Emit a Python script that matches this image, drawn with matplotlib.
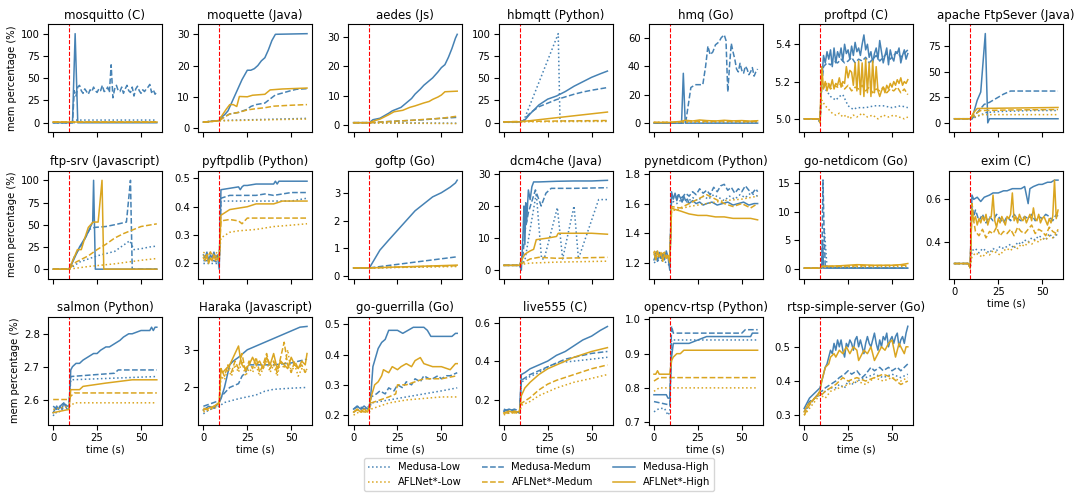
import matplotlib
matplotlib.use("Agg")
import matplotlib.pyplot as plt

BLUE = "#4682b4"
GOLD = "#daa520"

series_keys = ["ML", "MM", "MH", "AL", "AM", "AH"]
series_labels = {"ML": "Medusa-Low", "MM": "Medusa-Medum", "MH": "Medusa-High",
                 "AL": "AFLNet*-Low", "AM": "AFLNet*-Medum", "AH": "AFLNet*-High"}

titles = ["mosquitto (C)", "moquette (Java)", "aedes (Js)", "hbmqtt (Python)", "hmq (Go)",
          "proftpd (C)", "apache FtpSever (Java)",
          "ftp-srv (Javascript)", "pyftpdlib (Python)", "goftp (Go)", "dcm4che (Java)",
          "pynetdicom (Python)", "go-netdicom (Go)", "exim (C)",
          "salmon (Python)", "Haraka (Javascript)", "go-guerrilla (Go)", "live555 (C)",
          "opencv-rtsp (Python)", "rtsp-simple-server (Go)"]

# ---------------- data: (time s, mem %) ----------------
mosquitto = {
    "ML": ([0, 12, 13, 59], [0, 0, 3, 3]),
    "MM": ([0, 11] + list(range(12, 60)),
           [0, 0, 36, 30, 40, 42, 36, 33, 38, 35, 32, 37, 35, 40, 36, 34, 38, 36, 42, 35, 36, 40,
            34, 65, 28, 38, 42, 36, 35, 40, 33, 38, 42, 36, 34, 40, 30, 38, 41, 36, 33, 37,
            35, 38, 40, 43, 34, 37, 32, 35]),
    "MH": ([0, 11, 12.5, 14, 59], [0, 0, 100, 0, 0]),
    "AL": ([0, 59], [0.3, 0.3]),
    "AM": ([0, 59], [0.6, 0.6]),
    "AH": ([0, 59], [0.9, 0.9]),
}
moquette = {
    "ML": ([0, 9, 59], [1.9, 2.4, 3.1]),
    "MM": ([0, 9, 10, 15, 20, 25, 27, 30, 33, 35, 41, 45, 50, 53, 59],
           [1.9, 2.4, 3.0, 4.5, 5.0, 6.0, 6.9, 7.5, 7.8, 8.0, 10.6, 11.2, 12.0, 12.4, 12.6]),
    "MH": ([0, 9, 10, 12, 14, 16, 18, 20, 22, 24, 25, 27, 29, 31, 33, 35, 37, 39, 41, 59],
           [1.9, 2.4, 3.5, 4.2, 5.5, 8, 10.5, 13, 15.5, 17.5, 18.5, 18.5, 19, 20, 21.5, 22.5, 25, 28, 30, 30.2]),
    "AL": ([0, 9, 59], [1.9, 2.3, 2.9]),
    "AM": ([0, 9, 12, 15, 20, 25, 30, 35, 40, 50, 59],
           [1.9, 2.3, 3.5, 4.5, 5.0, 5.8, 6.2, 6.5, 7.0, 7.3, 7.5]),
    "AH": ([0, 9, 10, 13, 15, 17, 19, 20.5, 25, 28, 35, 38, 45, 59],
           [1.9, 2.3, 3.5, 6, 7.5, 7.5, 6.9, 10.1, 10, 10.5, 10.8, 12.2, 12.5, 12.8]),
}
aedes = {
    "ML": ([0, 9, 59], [0.8, 0.8, 0.6]),
    "MM": ([0, 9, 20, 40, 50, 59], [0.8, 0.8, 1.2, 1.8, 2.3, 2.6]),
    "MH": ([0, 9, 11, 15, 20, 22, 27, 30, 33, 35, 38, 40, 42, 45, 48, 50, 52, 54, 56, 58, 59],
           [0.8, 0.8, 1.8, 2.3, 4, 4.8, 6, 7.5, 9, 10.5, 12.2, 13.5, 14.5, 16, 18, 19.5, 20.5, 23, 26, 29.5, 30.8]),
    "AL": ([0, 9, 59], [0.7, 0.7, 0.5]),
    "AM": ([0, 9, 30, 50, 59], [0.8, 0.8, 1.5, 2.3, 3.0]),
    "AH": ([0, 9, 12, 15, 20, 23, 28, 32, 35, 40, 43, 45, 48, 50, 52, 59],
           [0.8, 0.8, 1.5, 2, 3.5, 4.5, 5, 6, 6.5, 7.5, 8, 8.7, 9.5, 10.2, 11.3, 11.5]),
}
hbmqtt = {
    "ML": ([0, 11, 31, 32, 59], [0.5, 0.5, 100, 2, 2]),
    "MM": ([0, 9, 11, 15, 20, 25, 30, 35, 40, 45, 50, 59],
           [1, 1, 2, 11, 18, 22, 26, 29, 32, 34.5, 36.5, 39.5]),
    "MH": ([0, 9, 12, 15, 20, 25, 30, 35, 40, 45, 50, 55, 59],
           [1, 1, 3, 10, 20, 26.5, 30, 35, 41, 46, 51, 55, 58]),
    "AL": ([0, 59], [1, 1.5]),
    "AM": ([0, 9, 59], [1, 1.5, 2.5]),
    "AH": ([0, 9, 59], [1, 1, 12]),
}
hmq = {
    "ML": ([0, 59], [0.3, 0.5]),
    "MM": ([0, 18, 21, 23.5, 27.8, 29.4, 30.7, 32, 33.5, 35, 37, 38.3, 40, 41, 42, 43, 44, 45, 46, 47,
            48, 49, 50, 51, 52, 53, 54, 55, 56, 57, 58, 59],
           [0, 0, 25, 27, 27, 40, 54, 48, 50, 55, 57, 60, 62, 58, 22, 40, 56, 50, 45, 38,
            36, 42, 37, 35, 40, 38, 34, 36, 39, 33, 36, 38]),
    "MH": ([0, 15.7, 16.7, 17.8, 59], [0, 0, 35, 0, 0]),
    "AL": ([0, 9, 59], [0.5, 0.5, 1.0]),
    "AM": ([0, 9, 15, 20, 30, 40, 50, 59], [0.5, 0.5, 1.0, 1.5, 1.2, 1.5, 1.0, 1.3]),
    "AH": ([0, 9, 15, 18, 22, 26, 30, 35, 40, 45, 50, 55, 59],
           [0.5, 0.5, 1.2, 2.0, 1.5, 2.2, 1.8, 1.5, 2.0, 1.6, 1.8, 1.4, 1.7]),
}
proftpd = {
    "ML": ([0, 8, 9, 10, 12, 15, 18, 20, 22, 25, 28, 30, 35, 40, 45, 50, 55, 59],
           [5.0, 5.0, 4.99, 5.2, 5.16, 5.12, 5.10, 5.12, 5.13, 5.07, 5.05, 5.06, 5.06, 5.07, 5.07, 5.06, 5.07, 5.06]),
    "MM": ([0, 8, 9, 10, 11, 13, 15, 17, 19, 21, 23, 25, 27, 29, 31, 33, 35, 37, 39, 41, 43, 45, 47, 49,
            51, 53, 55, 57, 59],
           [5.0, 5.0, 4.98, 5.18, 5.28, 5.30, 5.29, 5.31, 5.30, 5.32, 5.30, 5.31, 5.33, 5.30, 5.32,
            5.31, 5.33, 5.30, 5.32, 5.34, 5.31, 5.33, 5.35, 5.32, 5.34, 5.36, 5.33, 5.35, 5.37]),
    "MH": ([0, 8, 9, 10] + list(range(11, 60)),
           [5.0, 5.0, 4.98, 5.2,
            5.34, 5.30, 5.36, 5.32, 5.37, 5.28, 5.38, 5.30, 5.36, 5.33,
            5.38, 5.31, 5.40, 5.35, 5.37, 5.32, 5.39, 5.34, 5.41, 5.36,
            5.38, 5.34, 5.40, 5.45, 5.37, 5.40, 5.33, 5.36, 5.30, 5.35,
            5.38, 5.32, 5.42, 5.36, 5.30, 5.34, 5.38, 5.29, 5.37, 5.33,
            5.31, 5.36, 5.35, 5.38, 5.30, 5.34, 5.37, 5.32, 5.35]),
    "AL": ([0, 8, 9, 10, 12, 14, 16, 18, 20, 22, 24, 26, 28, 30, 33, 36, 39, 42, 45, 48, 51, 54, 57, 59],
           [5.0, 5.0, 4.99, 5.10, 5.07, 5.05, 5.03, 5.02, 5.03, 5.01, 5.02, 5.00, 5.02, 5.01, 5.03,
            5.01, 5.02, 5.00, 5.02, 5.01, 5.02, 5.01, 5.00, 5.01]),
    "AM": ([0, 8, 9, 10, 11, 13, 15, 17, 19, 21, 23, 25, 27, 29, 31, 33, 35, 37, 39, 41, 43, 45, 47, 49,
            51, 53, 55, 57, 59],
           [5.0, 5.0, 4.98, 5.2, 5.17, 5.19, 5.16, 5.18, 5.17, 5.19, 5.16, 5.18, 5.15, 5.17, 5.16,
            5.18, 5.15, 5.17, 5.14, 5.16, 5.15, 5.17, 5.14, 5.16, 5.15, 5.17, 5.14, 5.16, 5.13]),
    "AH": ([0, 8, 9] + list(range(10, 60)),
           [5.0, 5.0, 4.99,
            5.28, 5.16, 5.20, 5.15, 5.19, 5.17, 5.21, 5.16, 5.19, 5.18,
            5.22, 5.17, 5.20, 5.19, 5.28, 5.22, 5.26, 5.25, 5.18, 5.30,
            5.15, 5.31, 5.13, 5.30, 5.12, 5.32, 5.14, 5.30, 5.12, 5.31,
            5.14, 5.28, 5.15, 5.12, 5.15, 5.17, 5.14, 5.18, 5.16, 5.19,
            5.17, 5.20, 5.18, 5.21, 5.19, 5.22, 5.18, 5.20, 5.19, 5.21]),
}
apache = {
    "ML": ([0, 10, 14, 18, 25, 35, 45, 59], [4, 4, 7, 10, 11, 11.5, 12, 12]),
    "MM": ([0, 10, 13, 17, 20, 25, 28, 32, 59], [4, 4, 10, 18, 20, 25, 28, 31, 31]),
    "MH": ([0, 10, 11, 13, 15, 17.6, 19, 20, 59], [4, 4, 10, 22, 30, 87, 0, 4, 4]),
    "AL": ([0, 9, 12, 15, 59], [4, 4, 6, 8, 8]),
    "AM": ([0, 9, 12, 15, 30, 59], [4, 4, 9, 12, 12.5, 13]),
    "AH": ([0, 9, 11, 13, 59], [4, 4, 10, 14, 15]),
}
ftpsrv = {
    "ML": ([0, 9, 15, 25, 35, 43.6, 46, 50, 55, 59], [0, 0, 8, 15, 20, 32, 22, 23, 25, 26]),
    "MM": ([0, 9, 12.3, 17, 20.8, 23.7, 30, 35, 41.7, 44, 45, 59],
           [0, 0, 15, 30, 45, 47, 48, 50, 53, 100, 0, 0]),
    "MH": ([0, 9, 10.4, 15, 19, 21.8, 22.5, 23, 24, 59], [0, 0, 5, 25, 38, 50, 53, 100, 0, 0]),
    "AL": ([0, 9, 20, 35, 50, 59], [0, 0, 3, 6, 10, 12]),
    "AM": ([0, 9, 13, 20, 25, 30, 35, 40, 45, 50, 59], [0, 0, 8, 15, 22, 28, 35, 40, 44, 48, 51]),
    "AH": ([0, 9, 12.3, 13.8, 16, 18, 20, 22.7, 25.6, 27.8, 28.8, 59],
           [0, 0, 15, 22, 22, 35, 47, 53, 53, 100, 0, 0]),
}
pyftpdlib = {
    "ML": ([0, 3, 6, 9, 10, 30, 50, 59], [0.2, 0.2, 0.2, 0.2, 0.42, 0.42, 0.42, 0.43]),
    "MM": ([0, 3, 6, 9, 10, 15, 20, 25, 30, 35, 40, 45, 50, 59],
           [0.21, 0.21, 0.21, 0.2, 0.43, 0.44, 0.44, 0.44, 0.44, 0.445, 0.44, 0.445, 0.45, 0.45]),
    "MH": ([0, 1, 2, 3, 4, 5, 6, 7, 8, 9, 10, 15, 20, 21, 22, 23, 25, 30, 40, 41, 42, 43, 50, 59],
           [0.23, 0.22, 0.24, 0.21, 0.23, 0.22, 0.24, 0.22, 0.23, 0.18, 0.46, 0.465, 0.47, 0.46,
            0.47, 0.475, 0.475, 0.48, 0.48, 0.49, 0.48, 0.49, 0.49, 0.49]),
    "AL": ([0, 2, 4, 6, 8, 9, 10, 15, 20, 30, 40, 50, 59],
           [0.24, 0.23, 0.24, 0.23, 0.24, 0.23, 0.29, 0.31, 0.315, 0.32, 0.33, 0.335, 0.34]),
    "AM": ([0, 2, 4, 6, 8, 9, 10, 15, 20, 22, 25, 59],
           [0.23, 0.22, 0.24, 0.22, 0.23, 0.22, 0.35, 0.355, 0.35, 0.34, 0.36, 0.36]),
    "AH": ([0, 1, 2, 3, 4, 5, 6, 7, 8, 9, 10, 15, 20, 25, 30, 40, 45, 59],
           [0.22, 0.21, 0.23, 0.20, 0.22, 0.21, 0.23, 0.21, 0.22, 0.21, 0.37, 0.39, 0.395, 0.40,
            0.41, 0.41, 0.42, 0.42]),
}
goftp = {
    "ML": ([0, 9, 59], [0.3, 0.3, 0.38]),
    "MM": ([0, 9, 59], [0.3, 0.3, 0.7]),
    "MH": ([0, 9, 15, 20, 25, 30, 35, 40, 45, 50, 55, 58, 59],
           [0.3, 0.3, 0.94, 1.3, 1.65, 2.0, 2.35, 2.6, 2.85, 3.0, 3.2, 3.35, 3.45]),
    "AL": ([0, 9, 59], [0.3, 0.3, 0.35]),
    "AM": ([0, 9, 59], [0.3, 0.3, 0.38]),
    "AH": ([0, 9, 59], [0.3, 0.3, 0.4]),
}
dcm4che = {
    "ML": ([0, 9, 12, 18.5, 21.5, 23, 30.5, 33.5, 40, 42.5, 54, 59],
           [1.5, 1.5, 3, 24, 3.5, 3.5, 19.5, 3.5, 20, 3.5, 22, 22]),
    "MM": ([0, 9, 11, 12, 14, 18, 21.3, 24, 27, 40, 59],
           [1.5, 1.5, 5, 12, 18, 25, 20, 24, 25.5, 25.5, 25.7]),
    "MH": ([0, 9, 10, 11, 11.5, 12, 12.5, 13, 14, 15, 16, 17, 20, 30, 40, 50, 59],
           [1.5, 1.5, 0, 12, 20, 8, 21, 15, 25, 22, 26, 27.5, 27.5, 27.7, 27.8, 27.8, 28]),
    "AL": ([0, 9, 10, 15, 30, 59], [1.5, 1.5, 1.8, 2.2, 2.5, 2.8]),
    "AM": ([0, 9, 10, 15, 20, 30, 40, 59], [1.5, 1.5, 2, 3.5, 4, 3.7, 3.8, 4]),
    "AH": ([0, 9, 10, 12, 15, 17, 18.5, 25, 30, 31, 40, 50, 59],
           [1.5, 1.5, 3, 5, 6, 6.5, 9.5, 10, 10.5, 11.5, 11.5, 11.5, 11.2]),
}
pynetdicom = {
    "ML": ([0, 3, 6, 9, 10, 13, 16, 19, 22, 25, 28, 31, 34, 37, 40, 43, 46, 49, 52, 55, 59],
           [1.2, 1.22, 1.21, 1.18, 1.62, 1.60, 1.63, 1.61, 1.64, 1.62, 1.65, 1.63, 1.66, 1.64,
            1.62, 1.65, 1.63, 1.66, 1.64, 1.67, 1.65]),
    "MM": ([0, 2, 4, 6, 8, 9, 10, 12, 14, 16, 18, 20, 22, 24, 26, 28, 30, 32, 34, 36, 38, 40, 42, 44,
            46, 48, 50, 52, 54, 56, 58, 59],
           [1.25, 1.28, 1.22, 1.26, 1.24, 1.2, 1.65, 1.63, 1.66, 1.64, 1.67, 1.65, 1.68, 1.66, 1.70,
            1.67, 1.69, 1.66, 1.71, 1.68, 1.72, 1.73, 1.69, 1.71, 1.67, 1.70, 1.68, 1.72, 1.69,
            1.67, 1.70, 1.68]),
    "MH": ([0, 1, 2, 3, 4, 5, 6, 7, 8, 9, 10, 11, 12, 13, 14, 15, 16, 17, 18, 19, 20, 22, 24, 26, 28,
            30, 33, 36, 39, 42, 45, 48, 51, 54, 57, 59],
           [1.22, 1.25, 1.21, 1.27, 1.23, 1.26, 1.22, 1.28, 1.24, 1.15, 1.68, 1.63, 1.67, 1.62,
            1.66, 1.64, 1.61, 1.65, 1.62, 1.63, 1.60, 1.62, 1.60, 1.61, 1.59, 1.60, 1.61, 1.59,
            1.60, 1.61, 1.59, 1.60, 1.61, 1.59, 1.60, 1.60]),
    "AL": ([0, 3, 6, 9, 10, 20, 30, 40, 50, 59],
           [1.26, 1.24, 1.27, 1.22, 1.55, 1.58, 1.60, 1.62, 1.63, 1.65]),
    "AM": ([0, 3, 6, 9, 10, 15, 20, 25, 30, 35, 40, 45, 50, 55, 59],
           [1.28, 1.25, 1.27, 1.22, 1.58, 1.57, 1.60, 1.63, 1.66, 1.63, 1.60, 1.58, 1.60, 1.57, 1.60]),
    "AH": ([0, 1, 2, 3, 4, 5, 6, 7, 8, 9, 10, 12, 15, 20, 25, 30, 35, 40, 45, 50, 55, 59],
           [1.27, 1.22, 1.28, 1.24, 1.27, 1.21, 1.26, 1.23, 1.25, 1.2, 1.57, 1.56, 1.55, 1.53,
            1.52, 1.52, 1.51, 1.51, 1.50, 1.50, 1.50, 1.49]),
}
gonetdicom = {
    "ML": ([0, 10, 11, 11.5, 13, 59], [0.2, 0.2, 3, 7, 0.3, 0.2]),
    "MM": ([0, 10, 10.7, 11.3, 12, 59], [0.2, 0.2, 15.5, 7, 0.3, 0.2]),
    "MH": ([0, 10, 10.5, 11, 59], [0.2, 0.2, 5, 0.2, 0.2]),
    "AL": ([0, 9, 10, 59], [0.2, 0.2, 0.4, 0.5]),
    "AM": ([0, 9, 10, 30, 59], [0.2, 0.2, 0.5, 0.6, 0.7]),
    "AH": ([0, 9, 10, 20, 30, 40, 50, 55, 59], [0.2, 0.2, 0.5, 0.6, 0.8, 0.7, 0.7, 0.8, 1.0]),
}
exim = {
    "ML": ([0, 8, 9, 10, 12, 14, 16, 18, 20, 22, 24, 26, 28, 30, 32, 34, 36, 38, 40, 42, 44, 46, 48,
            50, 52, 54, 56, 58, 59],
           [0.3, 0.3, 0.28, 0.36, 0.37, 0.35, 0.37, 0.36, 0.35, 0.37, 0.36, 0.38, 0.37, 0.38, 0.39,
            0.37, 0.40, 0.39, 0.41, 0.40, 0.42, 0.41, 0.43, 0.42, 0.41, 0.44, 0.42, 0.43, 0.45]),
    "MM": ([0, 8, 9, 10, 11, 12, 14, 16, 18, 20, 22, 24, 26, 28, 30, 32, 34, 36, 38, 40, 42, 44, 46,
            48, 50, 52, 54, 56, 58, 59],
           [0.3, 0.3, 0.28, 0.58, 0.52, 0.55, 0.50, 0.53, 0.49, 0.52, 0.50, 0.53, 0.51, 0.49, 0.52,
            0.50, 0.53, 0.51, 0.50, 0.52, 0.51, 0.53, 0.50, 0.52, 0.51, 0.53, 0.52, 0.50, 0.53, 0.52]),
    "MH": ([0, 8, 9, 10, 11, 13, 15, 17, 20, 22, 25, 28, 30, 33, 35, 38, 40, 41, 42, 43, 45, 48, 50,
            53, 55, 57, 59],
           [0.3, 0.3, 0.28, 0.62, 0.60, 0.61, 0.59, 0.61, 0.62, 0.63, 0.63, 0.64, 0.64, 0.65, 0.65,
            0.65, 0.66, 0.62, 0.58, 0.65, 0.66, 0.67, 0.67, 0.68, 0.68, 0.69, 0.69]),
    "AL": ([0, 8, 9, 10, 12, 14, 16, 18, 20, 22, 24, 26, 28, 30, 32, 34, 36, 38, 40, 42, 44, 46, 48,
            50, 52, 54, 56, 58, 59],
           [0.3, 0.3, 0.28, 0.33, 0.35, 0.34, 0.33, 0.35, 0.34, 0.36, 0.35, 0.34, 0.36, 0.37, 0.36,
            0.38, 0.37, 0.39, 0.38, 0.40, 0.39, 0.41, 0.40, 0.42, 0.41, 0.43, 0.42, 0.44, 0.44]),
    "AM": ([0, 8, 9, 10, 11, 12, 14, 16, 18, 20, 22, 24, 26, 28, 30, 32, 34, 36, 38, 40, 42, 44, 46,
            48, 50, 52, 54, 56, 58, 59],
           [0.3, 0.3, 0.28, 0.58, 0.50, 0.45, 0.43, 0.46, 0.42, 0.45, 0.44, 0.47, 0.43, 0.45, 0.44,
            0.46, 0.43, 0.47, 0.45, 0.44, 0.46, 0.48, 0.44, 0.46, 0.45, 0.43, 0.47, 0.45, 0.44, 0.46]),
    "AH": ([0, 8, 9] + list(range(10, 60)),
           [0.3, 0.3, 0.28,
            0.55, 0.50, 0.52, 0.48, 0.51, 0.49, 0.52, 0.50, 0.53, 0.48,
            0.51, 0.52, 0.62, 0.50, 0.47, 0.51, 0.49, 0.52, 0.50, 0.48,
            0.52, 0.51, 0.53, 0.63, 0.50, 0.52, 0.49, 0.53, 0.51, 0.50,
            0.52, 0.49, 0.51, 0.53, 0.50, 0.56, 0.51, 0.50, 0.53, 0.49,
            0.51, 0.52, 0.50, 0.48, 0.51, 0.49, 0.52, 0.69, 0.51, 0.55]),
}
salmon = {
    "ML": ([0, 1, 3, 5, 7, 9, 10, 59], [2.55, 2.56, 2.56, 2.57, 2.58, 2.58, 2.66, 2.67]),
    "MM": ([0, 2, 4, 6, 8, 9, 10, 35, 37, 59], [2.58, 2.57, 2.58, 2.59, 2.58, 2.58, 2.67, 2.68, 2.69, 2.69]),
    "MH": ([0, 1, 2, 3, 4, 5, 6, 7, 8, 9, 10, 11, 13, 15, 17, 20, 23, 25, 27, 30, 32, 35, 38, 40, 43,
            45, 50, 55, 56, 57, 58, 59],
           [2.56, 2.57, 2.58, 2.57, 2.58, 2.57, 2.59, 2.58, 2.57, 2.57, 2.69, 2.70, 2.71, 2.71,
            2.72, 2.73, 2.74, 2.74, 2.75, 2.76, 2.76, 2.77, 2.78, 2.79, 2.80, 2.80, 2.81, 2.81,
            2.82, 2.81, 2.82, 2.82]),
    "AL": ([0, 9, 10, 12, 59], [2.57, 2.58, 2.58, 2.59, 2.59]),
    "AM": ([0, 9, 10, 12, 59], [2.60, 2.60, 2.61, 2.62, 2.62]),
    "AH": ([0, 9, 10, 15, 17, 30, 45, 59], [2.56, 2.57, 2.63, 2.63, 2.64, 2.65, 2.66, 2.66]),
}
haraka = {
    "ML": ([0, 3, 6, 9, 12, 20, 30, 35, 40, 50, 59], [1.3, 1.4, 1.45, 1.5, 1.6, 1.7, 1.8, 1.9, 1.95, 1.98, 2.0]),
    "MM": ([0, 3, 6, 9, 11, 15, 20, 22, 24, 26, 30, 40, 50, 59],
           [1.5, 1.55, 1.6, 1.65, 1.8, 2.0, 2.1, 2.3, 2.4, 2.6, 2.6, 2.6, 2.65, 2.75]),
    "MH": ([0, 3, 6, 9, 10, 12, 14, 15, 17, 20, 25, 30, 35, 40, 45, 50, 55, 59],
           [1.4, 1.5, 1.45, 1.6, 1.7, 2.0, 2.4, 2.6, 2.7, 2.8, 3.0, 3.1, 3.2, 3.3, 3.4, 3.5, 3.6, 3.62]),
    "AL": ([0, 3, 6, 9, 10, 12, 14, 16, 18, 20, 22, 24, 26, 28, 30, 32, 34, 36, 38, 40, 42, 44, 46,
            48, 50, 52, 54, 56, 58, 59],
           [1.35, 1.4, 1.45, 1.5, 2.3, 2.2, 2.5, 2.3, 2.6, 2.4, 2.7, 2.3, 2.5, 2.4, 2.6, 2.3, 2.5,
            2.7, 2.4, 2.6, 2.3, 2.7, 2.5, 3.0, 2.4, 2.6, 2.3, 2.5, 2.4, 2.5]),
    "AM": ([0, 3, 6, 9, 10, 12, 14, 16, 18, 20, 22, 24, 26, 28, 30, 32, 34, 36, 38, 40, 42, 44, 46,
            48, 50, 52, 54, 56, 58, 59],
           [1.45, 1.4, 1.5, 1.55, 2.5, 2.3, 2.6, 2.4, 2.7, 2.5, 2.9, 2.4, 2.7, 2.5, 2.8, 2.4, 2.6,
            2.9, 2.5, 2.7, 2.4, 2.8, 3.2, 2.6, 2.4, 2.7, 2.5, 2.6, 2.4, 2.5]),
    "AH": ([0, 3, 6, 9, 10, 11, 13, 15, 17, 20, 21, 22, 24, 26, 28, 30, 32, 34, 36, 38, 40, 42, 44,
            46, 48, 50, 52, 54, 56, 58, 59],
           [1.4, 1.45, 1.5, 1.6, 2.5, 2.4, 2.5, 2.6, 2.8, 3.1, 2.8, 2.6, 2.5, 2.6, 2.8, 2.6, 2.7,
            2.5, 2.8, 2.6, 2.9, 2.5, 2.7, 2.6, 2.5, 2.8, 2.6, 2.5, 2.7, 2.6, 2.9]),
}
goguerrilla = {
    "ML": ([0, 3, 6, 9, 10, 20, 30, 40, 50, 59], [0.21, 0.22, 0.22, 0.22, 0.24, 0.25, 0.26, 0.27, 0.28, 0.29]),
    "MM": ([0, 3, 6, 9, 10, 13, 15, 18, 20, 23, 25, 28, 30, 33, 35, 38, 40, 43, 45, 48, 50, 53, 55, 59],
           [0.22, 0.23, 0.22, 0.23, 0.26, 0.27, 0.28, 0.27, 0.29, 0.28, 0.30, 0.29, 0.31, 0.30,
            0.32, 0.31, 0.33, 0.32, 0.32, 0.33, 0.32, 0.33, 0.33, 0.34]),
    "MH": ([0, 2, 4, 6, 8, 9, 10, 11, 12, 13, 14, 16, 18, 20, 22, 25, 28, 31, 34, 37, 40, 42, 44, 47,
            50, 53, 56, 58, 59],
           [0.22, 0.23, 0.22, 0.23, 0.22, 0.23, 0.28, 0.36, 0.38, 0.40, 0.42, 0.44, 0.45, 0.48,
            0.48, 0.48, 0.47, 0.48, 0.49, 0.49, 0.49, 0.48, 0.46, 0.46, 0.46, 0.46, 0.46, 0.47, 0.47]),
    "AL": ([0, 3, 6, 9, 10, 20, 30, 40, 50, 59], [0.20, 0.21, 0.21, 0.21, 0.22, 0.24, 0.25, 0.255, 0.26, 0.26]),
    "AM": ([0, 3, 6, 9, 10, 15, 20, 24, 25, 30, 35, 40, 50, 59],
           [0.21, 0.22, 0.21, 0.22, 0.24, 0.25, 0.26, 0.27, 0.30, 0.30, 0.31, 0.32, 0.32, 0.33]),
    "AH": ([0, 2, 4, 6, 8, 9, 10, 12, 14, 16, 17, 20, 22, 25, 27, 30, 33, 35, 38, 40, 45, 50, 55, 58, 59],
           [0.21, 0.22, 0.21, 0.22, 0.21, 0.23, 0.26, 0.30, 0.31, 0.33, 0.35, 0.34, 0.36, 0.35,
            0.36, 0.37, 0.36, 0.38, 0.39, 0.37, 0.36, 0.36, 0.35, 0.37, 0.37]),
}
live555 = {
    "ML": ([0, 3, 6, 9, 10, 15, 20, 25, 30, 40, 50, 59],
           [0.14, 0.13, 0.14, 0.13, 0.29, 0.32, 0.34, 0.37, 0.39, 0.40, 0.41, 0.42]),
    "MM": ([0, 3, 6, 9, 10, 15, 20, 25, 30, 35, 40, 50, 59],
           [0.15, 0.14, 0.15, 0.14, 0.30, 0.33, 0.35, 0.37, 0.39, 0.41, 0.42, 0.44, 0.45]),
    "MH": ([0, 3, 6, 9, 10, 12, 15, 20, 25, 30, 35, 40, 45, 50, 55, 59],
           [0.14, 0.15, 0.14, 0.13, 0.33, 0.34, 0.36, 0.38, 0.40, 0.43, 0.45, 0.48, 0.51, 0.53, 0.56, 0.58]),
    "AL": ([0, 3, 6, 9, 10, 15, 20, 25, 30, 40, 50, 59],
           [0.12, 0.13, 0.13, 0.13, 0.17, 0.19, 0.22, 0.24, 0.26, 0.29, 0.31, 0.33]),
    "AM": ([0, 3, 6, 9, 10, 15, 20, 25, 30, 40, 50, 59],
           [0.13, 0.13, 0.14, 0.13, 0.18, 0.21, 0.25, 0.28, 0.30, 0.33, 0.36, 0.38]),
    "AH": ([0, 3, 6, 9, 10, 12, 15, 20, 25, 30, 35, 40, 50, 59],
           [0.13, 0.14, 0.13, 0.14, 0.22, 0.26, 0.29, 0.33, 0.36, 0.38, 0.40, 0.42, 0.45, 0.47]),
}
opencv = {
    "ML": ([0, 3, 6, 8, 9, 10, 59], [0.73, 0.74, 0.74, 0.72, 0.73, 0.94, 0.94]),
    "MM": ([0, 9, 10, 11, 50, 52, 59], [0.76, 0.75, 0.98, 0.96, 0.96, 0.97, 0.97]),
    "MH": ([0, 7, 8, 9, 10, 11, 12, 20, 25, 30, 55, 56, 59],
           [0.78, 0.78, 0.77, 0.77, 0.89, 0.93, 0.93, 0.93, 0.94, 0.95, 0.95, 0.96, 0.96]),
    "AL": ([0, 3, 6, 9, 10, 59], [0.79, 0.80, 0.80, 0.80, 0.80, 0.80]),
    "AM": ([0, 3, 6, 9, 10, 59], [0.82, 0.83, 0.83, 0.83, 0.83, 0.83]),
    "AH": ([0, 1, 2, 3, 9, 10, 11, 13, 15, 17, 59],
           [0.84, 0.84, 0.85, 0.84, 0.84, 0.88, 0.89, 0.90, 0.90, 0.91, 0.91]),
}
rtsp = {
    "ML": ([0, 3, 6, 9, 12, 15, 18, 20, 23, 25, 28, 30, 35, 40, 45, 50, 55, 59],
           [0.31, 0.33, 0.35, 0.36, 0.37, 0.38, 0.38, 0.39, 0.38, 0.40, 0.39, 0.40, 0.41, 0.42,
            0.41, 0.42, 0.41, 0.42]),
    "MM": ([0, 3, 6, 9, 10, 12, 15, 18, 20, 23, 25, 27, 30, 33, 35, 38, 40, 43, 45, 48, 50, 53, 55, 57, 59],
           [0.31, 0.34, 0.35, 0.37, 0.37, 0.38, 0.39, 0.40, 0.41, 0.42, 0.43, 0.42, 0.43, 0.41,
            0.42, 0.44, 0.43, 0.44, 0.43, 0.44, 0.43, 0.44, 0.43, 0.44, 0.45]),
    "MH": ([0, 2, 3, 5, 7, 9] + list(range(10, 60)),
           [0.32, 0.34, 0.35, 0.36, 0.37, 0.38,
            0.40, 0.42, 0.44, 0.45, 0.47, 0.49, 0.48, 0.51, 0.49, 0.52,
            0.50, 0.52, 0.49, 0.47, 0.51, 0.50, 0.52, 0.51, 0.49, 0.52,
            0.53, 0.50, 0.52, 0.50, 0.48, 0.51, 0.53, 0.51, 0.50, 0.52,
            0.54, 0.51, 0.49, 0.52, 0.50, 0.53, 0.52, 0.54, 0.50, 0.52,
            0.53, 0.51, 0.53, 0.54, 0.50, 0.52, 0.53, 0.51, 0.54, 0.56]),
    "AL": ([0, 3, 6, 9, 12, 15, 20, 25, 30, 35, 40, 45, 50, 55, 59],
           [0.30, 0.32, 0.34, 0.36, 0.35, 0.37, 0.38, 0.39, 0.40, 0.39, 0.41, 0.40, 0.41, 0.40, 0.41]),
    "AM": ([0, 3, 6, 9, 10, 12, 15, 18, 20, 22, 25, 30, 35, 40, 45, 50, 55, 59],
           [0.30, 0.33, 0.35, 0.37, 0.36, 0.37, 0.38, 0.39, 0.40, 0.41, 0.40, 0.41, 0.40, 0.41,
            0.42, 0.41, 0.39, 0.40]),
    "AH": ([0, 2, 4, 6, 8, 9, 10, 11, 12, 14, 15, 17, 18, 20, 22, 24, 26, 28, 30, 31, 32, 34, 36, 38,
            40, 42, 44, 46, 48, 50, 52, 54, 56, 57, 58, 59],
           [0.31, 0.33, 0.34, 0.35, 0.36, 0.37, 0.40, 0.42, 0.44, 0.45, 0.47, 0.48, 0.47, 0.49,
            0.48, 0.50, 0.48, 0.50, 0.49, 0.46, 0.47, 0.49, 0.48, 0.50, 0.46, 0.48, 0.50, 0.49,
            0.51, 0.52, 0.47, 0.51, 0.49, 0.48, 0.50, 0.50]),
}

datasets = [mosquitto, moquette, aedes, hbmqtt, hmq, proftpd, apache,
            ftpsrv, pyftpdlib, goftp, dcm4che, pynetdicom, gonetdicom, exim,
            salmon, haraka, goguerrilla, live555, opencv, rtsp]

ylims = [(-10.5, 110.5), (-1.3, 33.2), (-2.4, 34.2), (-10.5, 110.5), (-6.3, 69.4), (4.929, 5.507), (-9, 96),
         (-10.5, 110.8), (0.147, 0.527), (-0.08, 3.79), (-2.6, 31.0), (1.094, 1.822), (-1.6, 17.1), (0.23, 0.734),
         (2.524, 2.852), (1.016, 3.878), (0.169, 0.525), (0.07, 0.631), (0.693, 1.008), (0.273, 0.588)]
yticks = [[0, 25, 50, 75, 100], [0, 10, 20, 30], [0, 10, 20, 30], [0, 25, 50, 75, 100], [0, 20, 40, 60],
          [5.0, 5.2, 5.4], [0, 25, 50, 75],
          [0, 25, 50, 75, 100], [0.2, 0.3, 0.4, 0.5], [0, 1, 2, 3], [0, 10, 20, 30], [1.2, 1.4, 1.6, 1.8],
          [0, 5, 10, 15], [0.4, 0.6],
          [2.6, 2.7, 2.8], [2, 3], [0.2, 0.3, 0.4, 0.5], [0.2, 0.4, 0.6], [0.7, 0.8, 0.9, 1.0], [0.3, 0.4, 0.5]]
ytick_labels = [None, None, None, None, None, ["5.0", "5.2", "5.4"], None,
                None, None, None, None, None, None, None,
                None, None, None, None, ["0.7", "0.8", "0.9", "1.0"], None]

styles = {"ML": (BLUE, ":"), "MM": (BLUE, "--"), "MH": (BLUE, "-"),
          "AL": (GOLD, ":"), "AM": (GOLD, "--"), "AH": (GOLD, "-")}

W, H = 1078, 496
fig = plt.figure(figsize=(W / 100, H / 100), dpi=100)
plt.rcParams["font.family"] = "DejaVu Sans"

ax_w, ax_h = 114, 107.8
col_left = [48 + i * 150.2 for i in range(7)]
row_top = [24.3, 170.7, 316.7]

handles = {}
for k, (data, title) in enumerate(zip(datasets, titles)):
    r, c = divmod(k, 7) if k < 14 else (2, k - 14)
    left = col_left[c] / W
    bottom = 1 - (row_top[r] + ax_h) / H
    ax = fig.add_axes([left, bottom, ax_w / W, ax_h / H])
    for key in series_keys:
        t, v = data[key]
        color, ls = styles[key]
        ln, = ax.plot(t, v, color=color, ls=ls, lw=1.1, label=series_labels[key])
        handles[key] = ln
    ax.axvline(9, color="red", ls="--", lw=0.8)
    ax.set_xlim(-2.95, 61.95)
    ax.set_ylim(*ylims[k])
    ax.set_xticks([0, 25, 50])
    ax.set_yticks(yticks[k])
    if ytick_labels[k] is not None:
        ax.set_yticklabels(ytick_labels[k])
    ax.tick_params(labelsize=7.2, length=3.5, width=0.8, pad=2.5)
    ax.set_title(title, fontsize=8.5, pad=4)
    show_x = (r == 2) or (k == 13)
    if show_x:
        ax.set_xlabel("time (s)", fontsize=7.2, labelpad=1.5)
    else:
        ax.tick_params(labelbottom=False)
    if c == 0:
        ax.set_ylabel("mem percentage (%)", fontsize=7.2, labelpad=3)

order = ["ML", "AL", "MM", "AM", "MH", "AH"]
fig.legend([handles[k] for k in order], [series_labels[k] for k in order],
           loc="lower center", bbox_to_anchor=(0.5, 0.0), ncol=3, fontsize=7.2,
           frameon=True, handlelength=2.2, columnspacing=2.0)

fig.savefig("out.png", dpi=100)
